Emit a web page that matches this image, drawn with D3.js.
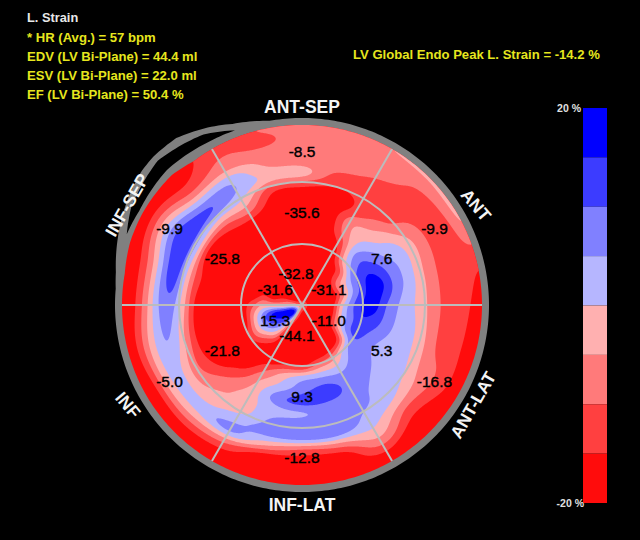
<!DOCTYPE html>
<html>
<head>
<meta charset="utf-8">
<script src="https://d3js.org/d3.v7.min.js"></script>
<style>
  html, body { margin: 0; padding: 0; background: #000; }
  svg { display: block; }
  text { font-family: "Liberation Sans", Arial, sans-serif; }
</style>
</head>
<body>
<div id="viz"></div>
<script>
// radial stations in pixels of the 180 px bullseye, for every ray below
var rayRadii = [10, 20, 30, 40, 50, 60, 72, 84, 96, 108, 120, 132, 144, 156, 168, 180];
var apexValue = -10;

// strain read along each ray, inside to outside. ray angle runs counter clockwise from east
var ray000 = [-20, -20, -17, -1, 9, 15.5, 17, 10, 5, 1.5, -3, -8, -11.5, -13, -15, -20];
var ray015 = [-20, -20, -20, -9, 3, 11, 18, 15, 8, 3.5, -2, -8, -11, -12, -12, -13];
var ray030 = [-20, -20, -20, -8, 0, 9, 13, 10, 5, 2.5, -2, -7, -11, -11.5, -10, -4];
var ray045 = [-20, -20, -20, -16, -13, -1, 4.5, 2, -2, -6, -11, -12, -12, -11, -9, -4];
var ray060 = [-20, -20, -20, -20, -19, -18, -14, -8, -7, -13, -14, -12, -10.5, -8, -7.5, -5];
var ray075 = [-20, -20, -20, -20, -20, -20, -20, -20, -20, -20, -16, -12, -8, -7.5, -7, -7];
var ray090 = [-20, -20, -20, -20, -20, -20, -20, -20, -20, -20, -14, -3, -7, -8, -8, -8];
var ray105 = [-20, -20, -20, -20, -20, -20, -20, -20, -20, -18, -13, -2, -5, -8, -11, -10];
var ray120 = [-20, -20, -20, -20, -20, -20, -20, -20, -18, -9, -1, 5, 3.5, -6, -10, -12];
var ray135 = [-20, -20, -20, -20, -20, -20, -20, -20, -18, -13, 0, 11, 4, -8, -15, -18];
var ray150 = [-17, -20, -20, -20, -20, -20, -20, -20, -20, -16, 2, 14.5, 11, 1, -10, -18];
var ray165 = [-8, -12, -17, -15, -20, -20, -20, -20, -18, -13, 0, 14, 6, -6, -15, -20];
var ray180 = [-5, -5, -4, -4, -11, -18, -20, -20, -20, -15.5, -2.5, 7.5, 5, -6, -15.5, -20];
var ray195 = [12, 15.5, 16, 8, -4, -18, -20, -20, -20, -17, -7, 3, 4.5, -3, -13, -20];
var ray210 = [17, 17, 13, 7, -3, -14, -20, -20, -20, -15, -10, -3, 2.5, -4, -15, -20];
var ray225 = [16, 11, 4, -3, -13, -18, -20, -17, -12, -8, -5, -2, 2.5, -5, -15, -20];
var ray240 = [-8, -13, -18, -20, -20, -20, -12, -6, -3, -2, -2, 3.5, 6, -8, -17, -20];
var ray255 = [-15, -20, -20, -20, -20, -16, -3, 2, 8, 3, 6, 7, -4, -18, -20, -20];
var ray270 = [-20, -20, -20, -20, -20, -16, 2.5, 8, 12, 4.5, 8, 8, -10, -18, -20, -20];
var ray285 = [-20, -20, -20, -20, -20, -10, 3, 11, 11, 7, 7.5, 8, -7, -18, -20, -20];
var ray300 = [-20, -20, -20, -20, -18, -7, 2, 8, 9, 7, 5.5, 3, -1, -7, -15, -20];
var ray315 = [-20, -20, -20, -20, -13, 2.5, 7, 7, 5, 3, 2.5, -1, -9, -15, -20, -20];
var ray330 = [-20, -20, -18, -5, 6, 11, 8, 4.5, 2.5, 2, 0, -5, -8, -12, -16, -20];
var ray345 = [-20, -20, -17, 0, 8, 14, 12, 8, 4, 3, -2, -7, -12, -13, -16, -20];
var strainRays = [ray000, ray015, ray030, ray045, ray060, ray075, ray090, ray105, ray120, ray135, ray150, ray165,
  ray180, ray195, ray210, ray225, ray240, ray255, ray270, ray285, ray300, ray315, ray330, ray345];

// colour bar, top band first
var bandEdges = [20, 15, 10, 5, 0, -5, -10, -15, -20];
var bandColors = ["#0000ff", "#3c3cff", "#8080ff", "#b6b6ff", "#ffb0b0", "#ff7a7a", "#ff4040", "#ff0c0c"];
var barTicks = ["20 %", "-20 %"];

// segment values, start at the top of each ring and go clockwise
var basalValues = [-8.5, -9.9, -16.8, -12.8, -5.0, -9.9];
var midValues = [-35.6, 7.6, 5.3, 9.3, -21.8, -25.8];
var apicalValues = [-32.8, -31.1, -11.0, -44.1, 15.3, -31.6];
var segmentAngles = [90, 30, -30, -90, -150, 150];
var wallNames = ["ANT-SEP", "ANT", "ANT-LAT", "INF-LAT", "INF", "INF-SEP"];

var headerLines = ["* HR (Avg.) = 57 bpm", "EDV (LV Bi-Plane) = 44.4 ml", "ESV (LV Bi-Plane) = 22.0 ml", "EF (LV Bi-Plane) = 50.4 %"];

// bulge of the trace at the upper left, radius by angle
var bulgeAngles = [100, 111, 117, 127, 135, 140, 150, 160, 170, 175];
var outerEdge = [187, 194, 200, 209, 210, 209, 203, 196, 189, 187];
var fieldEdge = [180, 180, 180, 180, 184, 184, 184, 183, 180, 180];
var crescentAngles = [111, 120, 135, 150, 158];
var crescentInner = [187, 188, 191, 188, 189];
var crescentOuter = [187, 197, 204, 197, 189];

var width = 640, height = 540, cx = 302, cy = 305;

var svg = d3.select("#viz").append("svg").attr("width", width).attr("height", height);
svg.append("rect").attr("width", width).attr("height", height).attr("fill", "#000");

function px(r, deg) { return cx + r * Math.cos(deg * Math.PI / 180); }
function py(r, deg) { return cy - r * Math.sin(deg * Math.PI / 180); }

function polarOutline(angles, radius) {
  return d3.line()(angles.map(function(a) { return [px(radius(a), a), py(radius(a), a)]; }));
}

var ringIndex = d3.scaleLinear().domain([0].concat(rayRadii)).range(d3.range(rayRadii.length + 1)).clamp(true);

function catmull(p0, p1, p2, p3, t) {
  return 0.5 * (2 * p1 + (p2 - p0) * t + (2 * p0 - 5 * p1 + 4 * p2 - p3) * t * t + (3 * p1 - p0 - 3 * p2 + p3) * t * t * t);
}

function rayValue(ray, i) {
  if (i <= 0) return apexValue;
  return ray[Math.min(i, rayRadii.length) - 1];
}

function alongRay(ray, rowPos) {
  var row = Math.min(Math.floor(rowPos), rayRadii.length - 1), t = rowPos - row;
  return catmull(rayValue(ray, row - 1), rayValue(ray, row), rayValue(ray, row + 1), rayValue(ray, row + 2), t);
}

function strainAt(r, deg) {
  var rowPos = ringIndex(r);
  var colPos = ((deg % 360) + 360) % 360 / 15, col = Math.floor(colPos) % 24, t = colPos - Math.floor(colPos);
  return catmull(alongRay(strainRays[(col + 23) % 24], rowPos), alongRay(strainRays[col], rowPos),
    alongRay(strainRays[(col + 1) % 24], rowPos), alongRay(strainRays[(col + 2) % 24], rowPos), t);
}

// trace outline and the dark crescent
var outerRadius = d3.scaleLinear().domain(bulgeAngles).range(outerEdge);
var fieldRadius = d3.scaleLinear().domain(bulgeAngles).range(fieldEdge);
var allAngles = d3.range(0, 360, 1);
function wrapped(scale, rest) {
  return function(a) { return a >= bulgeAngles[0] && a <= bulgeAngles[bulgeAngles.length - 1] ? scale(a) : rest; };
}
svg.append("path").attr("d", polarOutline(allAngles, wrapped(outerRadius, 187)) + "Z").attr("fill", "#808080");

var crescentIn = d3.scaleLinear().domain(crescentAngles).range(crescentInner);
var crescentOut = d3.scaleLinear().domain(crescentAngles).range(crescentOuter);
var crescentSweep = d3.range(crescentAngles[0], crescentAngles[crescentAngles.length - 1] + 1, 1);
svg.append("path")
  .attr("d", polarOutline(crescentSweep, crescentOut) + polarOutline(crescentSweep.slice().reverse(), crescentIn).replace("M", "L") + "Z")
  .attr("fill", "#000");

svg.append("clipPath").attr("id", "fieldClip").append("path")
  .attr("d", polarOutline(allAngles, wrapped(fieldRadius, 180)) + "Z");

// the strain map: polar readings on a pixel raster, contoured at the band edges
var gridSize = 420, gridLeft = cx - gridSize / 2, gridTop = cy - gridSize / 2;
var grid = new Float64Array(gridSize * gridSize);
for (var j = 0; j < gridSize; j++) {
  for (var i = 0; i < gridSize; i++) {
    var dx = i + gridLeft - cx, dy = cy - (j + gridTop);
    grid[j * gridSize + i] = strainAt(Math.sqrt(dx * dx + dy * dy), Math.atan2(dy, dx) * 180 / Math.PI);
  }
}
d3.blur2({data: grid, width: gridSize, height: gridSize}, 1);

var thresholds = bandEdges.slice(1, -1).reverse();
var contourGen = d3.contours().size([gridSize, gridSize]).thresholds(thresholds);
var bandOf = d3.scaleThreshold().domain(thresholds).range(bandColors.slice().reverse());

var field = svg.append("g").attr("clip-path", "url(#fieldClip)");
field.append("rect").attr("x", gridLeft).attr("y", gridTop).attr("width", gridSize).attr("height", gridSize)
  .attr("fill", bandColors[bandColors.length - 1]);
field.append("g").attr("transform", "translate(" + gridLeft + "," + gridTop + ")")
  .selectAll("path").data(contourGen(grid)).enter().append("path")
  .attr("d", d3.geoPath())
  .attr("fill", function(d) { return bandOf(d.value); });

// segment grid
var gridColor = "#bcbcbc";
[61, 123].forEach(function(r) {
  field.append("circle").attr("cx", cx).attr("cy", cy).attr("r", r)
    .attr("fill", "none").attr("stroke", gridColor).attr("stroke-width", 2);
});
[0, 60, 120].forEach(function(a) {
  field.append("line").attr("x1", px(-181, a)).attr("y1", py(-181, a)).attr("x2", px(181, a)).attr("y2", py(181, a))
    .attr("stroke", gridColor).attr("stroke-width", 2);
});

// segment values
function valueLabels(values, radius, nudge) {
  svg.append("g").selectAll("text").data(values).enter().append("text")
    .attr("x", function(d, i) { return px(radius, segmentAngles[i]) + (nudge ? nudge[i] : 0); })
    .attr("y", function(d, i) { return py(radius, segmentAngles[i]) + 5; })
    .attr("text-anchor", "middle")
    .attr("font-size", 15.5)
    .attr("fill", "#000")
    .attr("stroke", "#000").attr("stroke-width", 0.4)
    .text(function(d) { return d.toFixed(1); });
}
valueLabels(basalValues, 153);
valueLabels(midValues, 92);
valueLabels(apicalValues, 31, [-6, 0, 0, -5, 0, 0]);

// wall names, centred on the spot they sit at in the picture
var wallPlaces = [[302, 107, 0], [476, 205, 50], [473, 405, -60], [302, 505, 0], [128, 405, 50], [127, 205, -60]];
svg.append("g").selectAll("text").data(wallNames).enter().append("text")
  .attr("transform", function(d, i) { return "translate(" + wallPlaces[i][0] + "," + wallPlaces[i][1] + ") rotate(" + wallPlaces[i][2] + ")"; })
  .attr("text-anchor", "middle")
  .attr("dy", "0.35em")
  .attr("font-size", 17.5)
  .attr("font-weight", "bold")
  .attr("fill", "#f4f4f4")
  .text(function(d) { return d; });

// header
svg.append("text").attr("x", 27).attr("y", 22).attr("font-size", 12.8).attr("font-weight", "bold").attr("fill", "#e8e8e8").text("L. Strain");
svg.append("g").selectAll("text").data(headerLines).enter().append("text")
  .attr("x", 27).attr("y", function(d, i) { return 42 + i * 19; })
  .attr("font-size", 13.1).attr("font-weight", "bold").attr("fill", "#e6e61e")
  .text(function(d) { return d; });
svg.append("text").attr("x", 353).attr("y", 59).attr("font-size", 13.1).attr("font-weight", "bold").attr("fill", "#e6e61e")
  .text("LV Global Endo Peak L. Strain = -14.2 %");

// colour bar
var barY = d3.scaleLinear().domain([20, -20]).range([108, 503]);
svg.append("g").selectAll("rect").data(bandColors).enter().append("rect")
  .attr("x", 583).attr("width", 24)
  .attr("y", function(d, i) { return barY(bandEdges[i]); })
  .attr("height", function(d, i) { return barY(bandEdges[i + 1]) - barY(bandEdges[i]); })
  .attr("fill", function(d) { return d; });
svg.append("g").selectAll("text").data(barTicks).enter().append("text")
  .attr("x", 583).attr("text-anchor", "end")
  .attr("y", function(d, i) { return barY(i ? -20 : 20) + 4; })
  .attr("dx", function(d, i) { return i ? 1 : -2; })
  .attr("font-size", 10.5).attr("font-weight", "bold").attr("fill", "#e0e0e0")
  .text(function(d) { return d; });
</script>
</body>
</html>
